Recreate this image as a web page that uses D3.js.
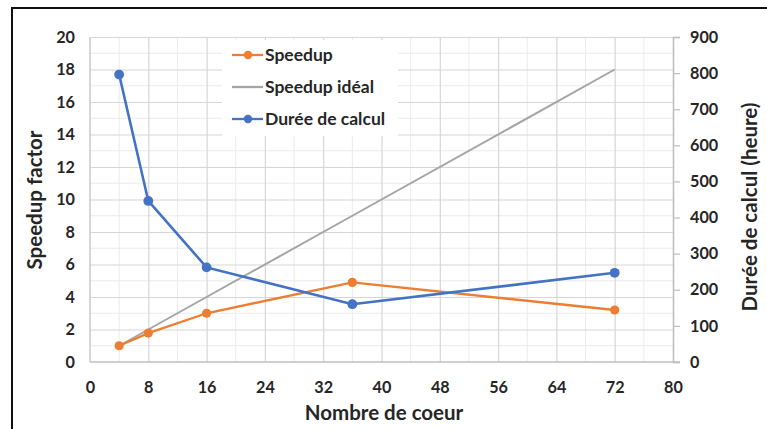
<!DOCTYPE html>
<html>
<head>
<meta charset="utf-8">
<script src="https://cdn.jsdelivr.net/npm/d3@7"></script>
<style>
  html, body { margin: 0; padding: 0; background: #fff; }
  svg { display: block; }
  text { font-family: Lato, "Open Sans", sans-serif; font-weight: 700; fill: #262626; }
</style>
</head>
<body>
<svg id="chart" width="767" height="429"></svg>
<script>
// Number of cores used for each run
const cores = [4, 8, 16, 36, 72];
// Measured speedup factor
const speedup = [1.0, 1.78, 3.0, 4.9, 3.2];
// Ideal (linear) speedup relative to 4 cores
const idealSpeedup = [1, 2, 4, 9, 18];
// Computation time in hours
const duree = [796, 446, 262, 160, 247];

const xTicks = [0, 8, 16, 24, 32, 40, 48, 56, 64, 72, 80];
const yLeftTicks = [0, 2, 4, 6, 8, 10, 12, 14, 16, 18, 20];
const yRightTicks = [0, 100, 200, 300, 400, 500, 600, 700, 800, 900];

const legendItems = [
  { label: "Speedup", color: "#ED7D31", marker: true },
  { label: "Speedup idéal", color: "#A5A5A5", marker: false },
  { label: "Durée de calcul", color: "#4472C4", marker: true }
];

const svg = d3.select("#chart");
const plot = { left: 90, right: 673, top: 37, bottom: 362 };

const x = d3.scaleLinear().domain([0, 80]).range([plot.left, plot.right]);
const yL = d3.scaleLinear().domain([0, 20]).range([plot.bottom, plot.top]);
const yR = d3.scaleLinear().domain([0, 900]).range([plot.bottom, plot.top]);

const tickFont = 16.2;
const titleFont = 20.5;

// Outer frame
svg.append("rect")
  .attr("x", 12).attr("y", 8).attr("width", 800).attr("height", 500)
  .attr("fill", "none").attr("stroke", "#111").attr("stroke-width", 2);

// Minor gridlines
const grid = svg.append("g");
grid.selectAll("line.vminor").data(d3.range(4, 80, 8)).join("line")
  .attr("x1", d => x(d)).attr("x2", d => x(d))
  .attr("y1", plot.top).attr("y2", plot.bottom)
  .attr("stroke", "#ebebeb").attr("stroke-width", 1);
grid.selectAll("line.hminor").data(d3.range(1, 20, 2)).join("line")
  .attr("x1", plot.left).attr("x2", plot.right)
  .attr("y1", d => yL(d)).attr("y2", d => yL(d))
  .attr("stroke", "#ebebeb").attr("stroke-width", 1);

// Major gridlines
grid.append("g")
  .attr("transform", `translate(0,${plot.bottom})`)
  .call(d3.axisBottom(x).tickValues(xTicks.slice(1)).tickSize(-(plot.bottom - plot.top)).tickFormat(""))
  .call(g => g.select(".domain").remove())
  .call(g => g.selectAll("line").attr("stroke", "#d6d6d6").attr("stroke-width", 1.2));
grid.append("g")
  .attr("transform", `translate(${plot.left},0)`)
  .call(d3.axisLeft(yL).tickValues(yLeftTicks.slice(1)).tickSize(-(plot.right - plot.left)).tickFormat(""))
  .call(g => g.select(".domain").remove())
  .call(g => g.selectAll("line").attr("stroke", "#d6d6d6").attr("stroke-width", 1.2));

// Axis lines
svg.append("line").attr("x1", plot.left).attr("x2", plot.right + 7)
  .attr("y1", plot.bottom).attr("y2", plot.bottom)
  .attr("stroke", "#bfbfbf").attr("stroke-width", 1.5);
svg.append("line").attr("x1", plot.left).attr("x2", plot.left)
  .attr("y1", plot.top).attr("y2", plot.bottom)
  .attr("stroke", "#c8c8c8").attr("stroke-width", 1.5);

const styleTicks = sel => sel.selectAll("text")
  .attr("font-size", tickFont)
  .style("font-family", "Lato, sans-serif")
  .style("font-weight", 700)
  .attr("fill", "#262626");

// Left axis labels
const axL = svg.append("g")
  .attr("transform", `translate(${plot.left},0)`)
  .call(d3.axisLeft(yL).tickValues(yLeftTicks).tickSize(0).tickPadding(15));
axL.select(".domain").remove();
styleTicks(axL);

// Right axis with outward ticks
const axR = svg.append("g")
  .attr("transform", `translate(${plot.right},0)`)
  .call(d3.axisRight(yR).tickValues(yRightTicks).tickSize(7).tickPadding(10));
axR.select(".domain").attr("stroke", "#bfbfbf").attr("stroke-width", 1.5);
axR.selectAll("line").attr("stroke", "#bfbfbf").attr("stroke-width", 1.2);
styleTicks(axR);

// Bottom axis labels
const axB = svg.append("g")
  .attr("transform", `translate(0,${plot.bottom})`)
  .call(d3.axisBottom(x).tickValues(xTicks).tickSize(0).tickPadding(19));
axB.select(".domain").remove();
styleTicks(axB);

// Axis titles
svg.append("text").attr("x", 384).attr("y", 420)
  .attr("text-anchor", "middle").attr("font-size", titleFont).text("Nombre de coeur");
svg.append("text").attr("transform", `translate(42,200) rotate(-90)`)
  .attr("text-anchor", "middle").attr("font-size", titleFont).text("Speedup factor");
svg.append("text").attr("transform", `translate(757,207) rotate(-90)`)
  .attr("text-anchor", "middle").attr("font-size", titleFont).text("Durée de calcul (heure)");

// Series
const pts = (ys, scale) => cores.map((c, i) => [x(c), scale(ys[i])]);
const line = d3.line();

svg.append("path").attr("d", line(pts(idealSpeedup, yL)))
  .attr("fill", "none").attr("stroke", "#A5A5A5").attr("stroke-width", 2);

svg.append("path").attr("d", line(pts(speedup, yL)))
  .attr("fill", "none").attr("stroke", "#ED7D31").attr("stroke-width", 2.3);
svg.selectAll("circle.sp").data(pts(speedup, yL)).join("circle")
  .attr("cx", d => d[0]).attr("cy", d => d[1]).attr("r", 4.6).attr("fill", "#ED7D31");

svg.append("path").attr("d", line(pts(duree, yR)))
  .attr("fill", "none").attr("stroke", "#4472C4").attr("stroke-width", 2.6);
svg.selectAll("circle.du").data(pts(duree, yR)).join("circle")
  .attr("cx", d => d[0]).attr("cy", d => d[1]).attr("r", 4.9).attr("fill", "#4472C4");

// Legend
const lg = svg.append("g");
lg.append("rect").attr("x", 222).attr("y", 40).attr("width", 176).attr("height", 96).attr("fill", "#fff");
legendItems.forEach((item, i) => {
  const cy = 55 + i * 32;
  lg.append("line").attr("x1", 232).attr("x2", 263).attr("y1", cy).attr("y2", cy)
    .attr("stroke", item.color).attr("stroke-width", 2.3);
  if (item.marker) {
    lg.append("circle").attr("cx", 248).attr("cy", cy).attr("r", 4.2).attr("fill", item.color);
  }
  lg.append("text").attr("x", 265).attr("y", cy).attr("dy", "0.35em")
    .attr("font-size", 17.5).text(item.label);
});
</script>
</body>
</html>
